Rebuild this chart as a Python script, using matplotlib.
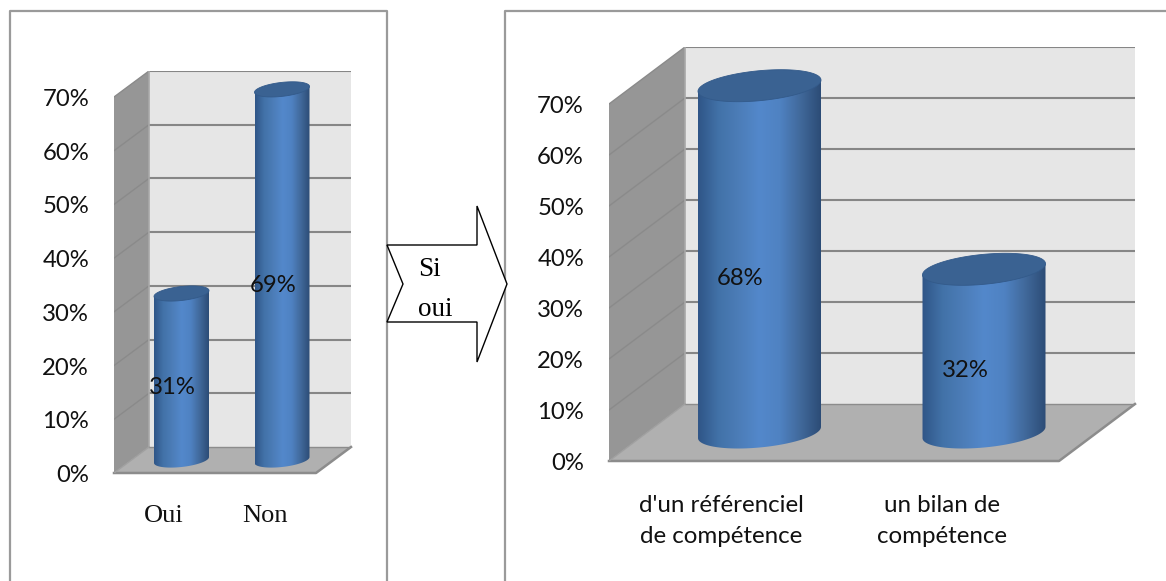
import numpy as np
import matplotlib
matplotlib.use("Agg")
import matplotlib.pyplot as plt
from matplotlib.patches import Polygon

W, H = 1166, 581

ticks = [0, 10, 20, 30, 40, 50, 60, 70]
tick_labels = ["0%", "10%", "20%", "30%", "40%", "50%", "60%", "70%"]

cats_left = ["Oui", "Non"]
vals_left = [31, 69]
cats_right = ["d'un référenciel\nde compétence", "un bilan de\ncompétence"]
vals_right = [68, 32]

SANS = "Lato"
SERIF = "Liberation Serif"
WALL = "#e6e6e6"
SIDE = "#969696"
FLOOR = "#b0b0b0"
GRID = "#868686"

blue = matplotlib.colors.LinearSegmentedColormap.from_list(
    "cyl", ["#2f5587", "#4272a8", "#4c7db8", "#5388cb", "#4f82c2", "#41699b", "#2c4c76"])


def panel(x0, x1, y0, y70, dx, dy, cats, vals, centers, bar_w, ell_h, tilt,
          cat_pos, cat_font, lab_off, fs):
    # x0,x1 front floor edge; y0,y70 front wall pixels; dx,dy depth of the box
    unit = (y0 - y70) / 70.0
    depth = dy / unit
    left, right = x0, x1 + dx
    top = y70 - dy
    ax = fig.add_axes([left / W, 1 - y0 / H, (right - left) / W, (y0 - top) / H])
    xu = centers[1] - centers[0]
    ax.set_xlim((left - centers[0]) / xu, (right - centers[0]) / xu)
    ax.set_ylim(0, 70 + depth)
    ax.axis("off")
    ox = dx / xu
    xl, xr = ax.get_xlim()
    xf = (x1 - centers[0]) / xu

    ax.add_patch(Polygon([[xl + ox, depth], [xr, depth], [xr, 70 + depth], [xl + ox, 70 + depth]],
                         fc=WALL, ec="none", zorder=1))
    ax.add_patch(Polygon([[xl, 0], [xl + ox, depth], [xl + ox, 70 + depth], [xl, 70]],
                         fc=SIDE, ec="none", zorder=1))
    ax.add_patch(Polygon([[xl, 0], [xf, 0], [xr, depth], [xl + ox, depth]],
                         fc=FLOOR, ec="none", zorder=1))

    for t in ticks[1:]:
        ax.plot([xl + ox, xr], [t + depth, t + depth], color=GRID, lw=1.5, zorder=2,
                solid_capstyle="butt")
        ax.plot([xl, xl + ox], [t, t + depth], color="#8a8a8a", lw=1.0, zorder=2)
    ax.plot([xl + ox, xl + ox], [depth, 70 + depth], color="#a8a8a8", lw=1.2, zorder=2)
    ax.plot([xl, xf, xr], [0, 0, depth], color="#8c8c8c", lw=1.8, zorder=2, clip_on=False)
    ax.plot([xl + ox, xr], [depth, depth], color="#8c8c8c", lw=1.0, zorder=2)
    ax.plot([xl, xl + ox], [0, depth], color="#a0a0a0", lw=1.0, zorder=2)

    for t, lab in zip(ticks, tick_labels):
        ax.annotate(lab, (xl, t), xytext=(-25, -2.5), textcoords="offset pixels", ha="right",
                    va="center", fontsize=fs, family=SANS, color="#111111", annotation_clip=False)

    mid = depth / 2
    a = bar_w / 2 / xu
    b = ell_h / 2 / unit
    th = np.linspace(0, 2 * np.pi, 120)
    for i, v in enumerate(vals):
        xs = i + a * np.cos(th)
        ys = b * np.sin(th) + tilt * a * np.cos(th)
        # body = base ellipse swept up to the value
        low = th[(th > np.pi)]
        body = np.r_[np.c_[i + a * np.cos(low), mid + b * np.sin(low) + tilt * a * np.cos(low)],
                     [[i + a, mid + v + tilt * a], [i - a, mid + v - tilt * a]]]
        im = ax.imshow(np.linspace(0, 1, 256)[None, :], cmap=blue, aspect="auto",
                       extent=[i - a, i + a, mid - 2 * b, mid + v + 2 * b], zorder=3)
        im.set_clip_path(Polygon(body, transform=ax.transData))
        ax.add_patch(Polygon(np.c_[xs, mid + v + ys], fc="#3a6292", ec="#335a8a", lw=0.6, zorder=4))
        ax.text(i + lab_off[0] / xu, v / 2 + lab_off[1], "%d%%" % v, ha="center", va="center",
                fontsize=fs, family=SANS, color="#111111", zorder=5)
    ax.set_xlim(xl, xr)
    ax.set_ylim(0, 70 + depth)

    for c, (cx, cy), in zip(cats, cat_pos):
        fig.text(cx / W, 1 - cy / H, c, ha="center", va="center", linespacing=1.6,
                 **cat_font)


fig = plt.figure(figsize=(W / 100, H / 100), dpi=100, facecolor="white")

# frames and the arrow between the two charts, in pixel coordinates
bg = fig.add_axes([0, 0, 1, 1])
bg.set_xlim(0, W)
bg.set_ylim(H, 0)
bg.axis("off")
bg.plot([10, 10, 387, 387], [H, 11, 11, H], color="#9a9a9a", lw=1.6)
bg.plot([505, 505, W], [H, 11, 11], color="#9a9a9a", lw=1.6)
bg.add_patch(Polygon([[387, 245], [477, 245], [477, 206], [507, 284], [477, 362], [477, 322],
                      [387, 322], [403, 284]], fc="white", ec="black", lw=1.0, zorder=5))
bg.text(418, 270, "Si", family=SERIF, fontsize=19.5, va="center", zorder=6)
bg.text(418, 309, "oui", family=SERIF, fontsize=19.5, va="center", zorder=6)

panel(114, 316, 473, 97, 35, 26, cats_left, vals_left, [181.5, 282], 55, 14, 2.0,
      [(164, 516), (265, 516)], dict(family=SERIF, fontsize=19, color="#111111"), (-9, 0.5), 17.2)
panel(609, 1059, 461, 104, 76, 57, cats_right, vals_right, [759.5, 984], 123, 30, 4.0,
      [(721, 521), (942, 521)], dict(family=SANS, fontsize=17.4, color="#111111"), (-19, 1.8), 17.2)

fig.savefig("out.png", dpi=100)
